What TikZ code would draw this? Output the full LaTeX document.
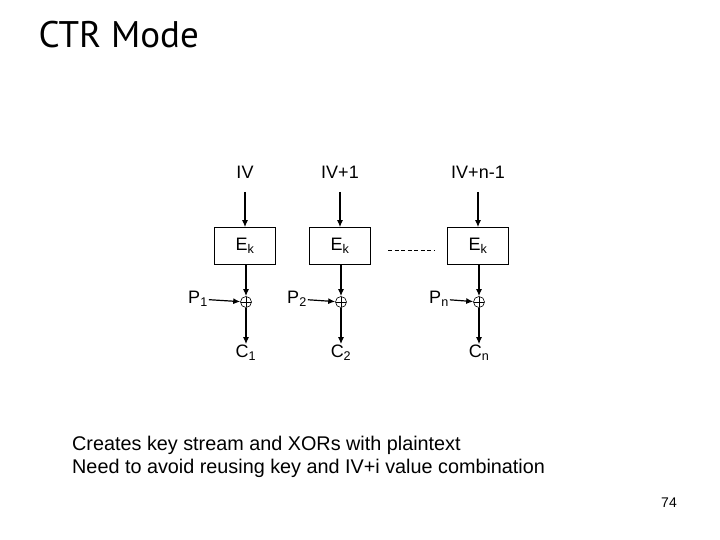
\documentclass[tikz,border=0pt]{standalone}
\usepackage{fontspec}
\setmainfont{Liberation Sans}
\newfontfamily\titlefont{PT Sans}
\usetikzlibrary{arrows.meta}
\begin{document}
\begin{tikzpicture}[x=1pt,y=-1pt,
  box/.style={draw,line width=0.6pt,minimum width=61pt,minimum height=37pt,inner sep=0pt,font=\fontsize{18}{21}\selectfont},
  xo/.style={circle,draw,line width=0.6pt,minimum size=11pt,inner sep=0pt,path picture={\draw[line width=0.6pt] (path picture bounding box.north)--(path picture bounding box.south) (path picture bounding box.west)--(path picture bounding box.east);}},
  lbl/.style={font=\fontsize{18}{21}\selectfont,inner sep=1pt},
  arr/.style={-{Latex[length=7pt,width=6pt]},line width=1.2pt}]
\useasboundingbox (0,0) rectangle (720,540);
\node[anchor=west,font=\titlefont\fontsize{37}{42}\selectfont] (title) at (35,35) {CTR Mode};
\foreach \n/\x/\iv/\p/\c/\px/\yb in {a/245/IV/P\textsubscript{1}/C\textsubscript{1}/198/246, b/340/IV+1/P\textsubscript{2}/C\textsubscript{2}/297/246, c/478/IV+n-1/P\textsubscript{n}/C\textsubscript{n}/439/300}{
  \node[lbl] (iv\n) at (\x,172) {\iv};
  \coordinate (t\n) at (\x,192);
  \node[box] (e\n) at (\x,246) {E\textsubscript{k}};
  \node[xo] (x\n) at (\x+1,302) {};
  \node[lbl] (c\n) at (\x+1,353) {\c};
  \node[lbl] (p\n) at (\px,299) {\p};
  \draw[arr] (t\n) -- (e\n);
  \draw[arr] (e\n.south -| x\n) -- (x\n);
  \draw[arr] (x\n) -- (c\n);
  \draw[arr] (p\n) -- (x\n);
}
\coordinate (d1) at (388,250); \coordinate (d2) at (435,250);
\draw[dash pattern=on 4pt off 2.5pt,line width=0.6pt] (d1) -- (d2);
\node[anchor=north west,align=left,font=\fontsize{19.8}{23}\selectfont,inner sep=0pt] (txt) at (72,436) {Creates key stream and XORs with plaintext\\Need to avoid reusing key and IV+i value combination};
\node[font=\fontsize{14}{16}\selectfont] (pg) at (669,503) {74};
\end{tikzpicture}
\end{document}
